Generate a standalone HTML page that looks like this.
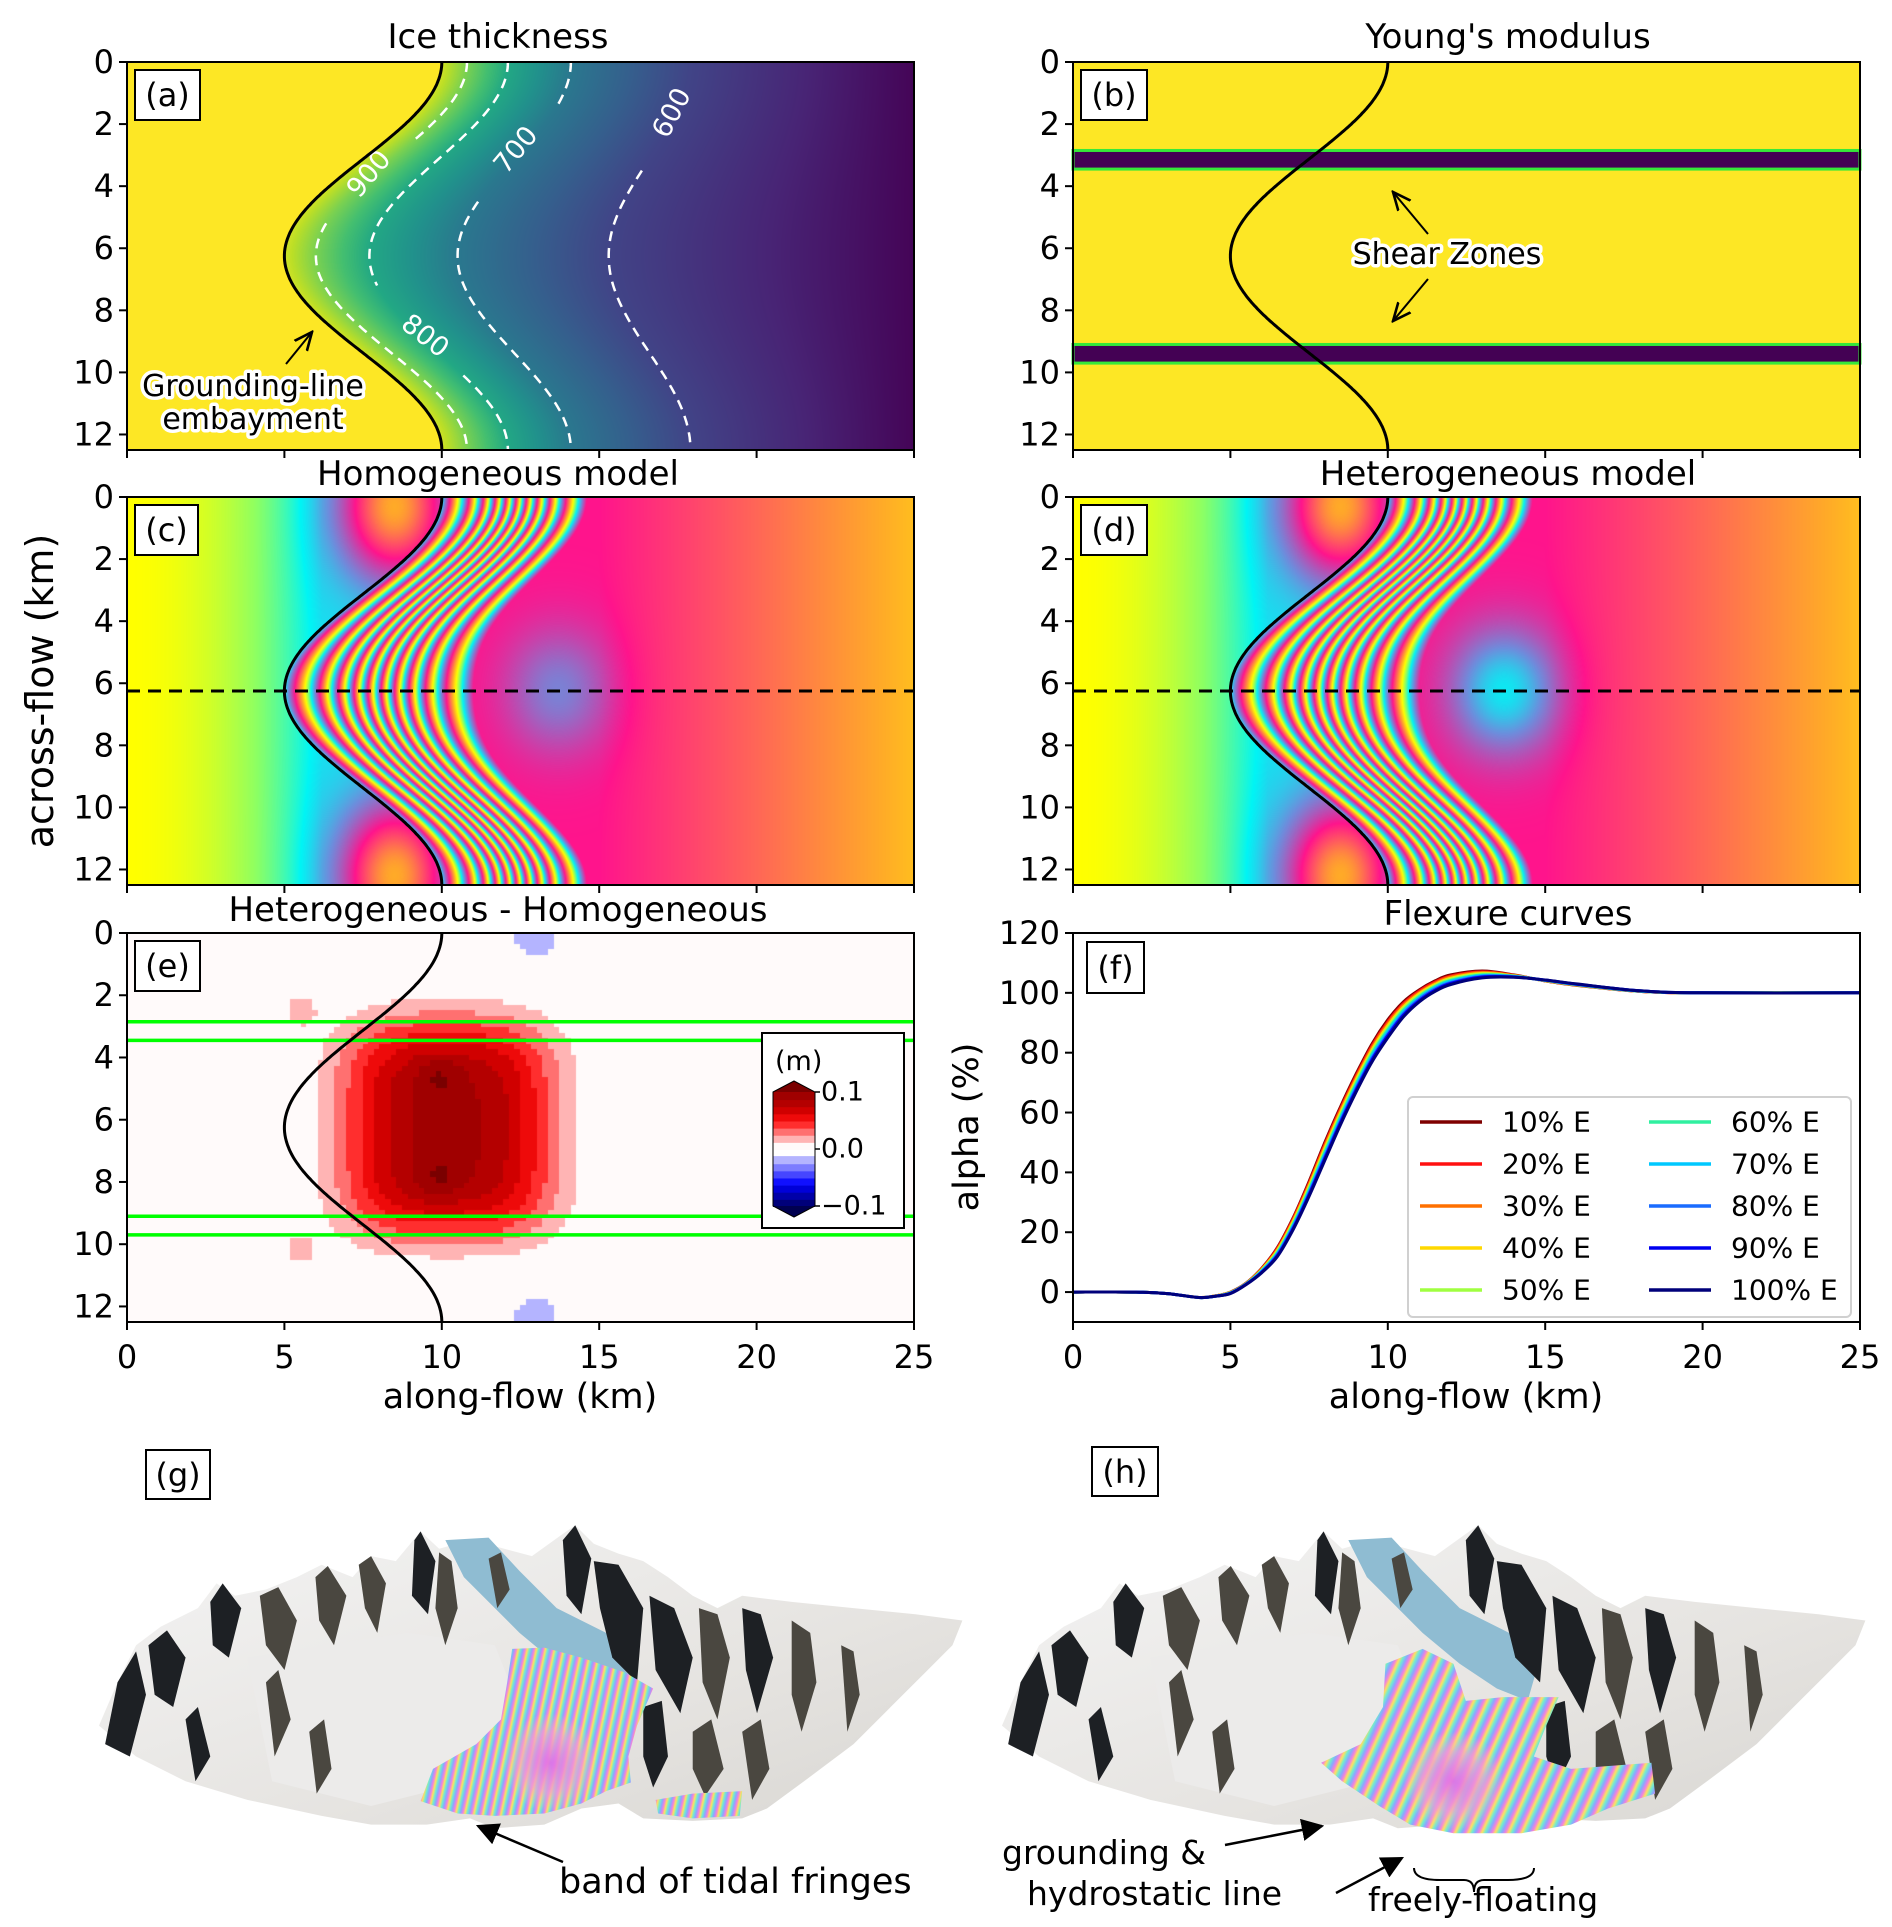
<!DOCTYPE html>
<html><head><meta charset="utf-8">
<style>
body{margin:0;background:#fff}
#fig{position:relative;width:1892px;height:1927px;overflow:hidden;background:#fff;font-family:"DejaVu Sans","Liberation Sans",sans-serif}
canvas{position:absolute}
#ov{position:absolute;left:0;top:0}
</style></head>
<body>
<div id="fig">
<canvas id="cva" width="787" height="388" style="left:127px;top:62px;width:787px;height:388px"></canvas>
<canvas id="cvc" width="787" height="388" style="left:127px;top:497px;width:787px;height:388px"></canvas>
<canvas id="cvd" width="787" height="388" style="left:1073px;top:497px;width:787px;height:388px"></canvas>
<canvas id="cve" width="787" height="389" style="left:127px;top:933px;width:787px;height:389px"></canvas>
<svg id="ov" width="1892" height="1927" xmlns="http://www.w3.org/2000/svg">
<defs>
<marker id="ah" viewBox="0 0 10 10" refX="9" refY="5" markerWidth="9" markerHeight="9" orient="auto-start-reverse"><path d="M0,0 L10,5 L0,10 z" fill="#000"/></marker>
<marker id="ao" viewBox="0 0 10 10" refX="9" refY="5" markerWidth="10" markerHeight="10" orient="auto"><path d="M0,1 L9,5 L0,9" fill="none" stroke="#000" stroke-width="1.3"/></marker>
<linearGradient id="frg" gradientUnits="userSpaceOnUse" x1="0" y1="0" x2="7" y2="1.5" spreadMethod="repeat">
<stop offset="0" stop-color="#f080e0"/><stop offset="0.25" stop-color="#ffe060"/><stop offset="0.5" stop-color="#70ecd0"/><stop offset="0.75" stop-color="#8aa8ff"/><stop offset="1" stop-color="#f080e0"/></linearGradient>
<linearGradient id="frh" gradientUnits="userSpaceOnUse" x1="0" y1="0" x2="9" y2="4" spreadMethod="repeat">
<stop offset="0" stop-color="#f080e0"/><stop offset="0.25" stop-color="#ffe060"/><stop offset="0.5" stop-color="#70ecd0"/><stop offset="0.75" stop-color="#8aa8ff"/><stop offset="1" stop-color="#f080e0"/></linearGradient>
<radialGradient id="mag" cx="0.5" cy="0.5" r="0.5"><stop offset="0" stop-color="#e070e8" stop-opacity="0.95"/><stop offset="0.6" stop-color="#f0a0d0" stop-opacity="0.7"/><stop offset="1" stop-color="#ffd090" stop-opacity="0"/></radialGradient>
<linearGradient id="snow" x1="0" y1="0" x2="1" y2="1"><stop offset="0" stop-color="#f4f4f4"/><stop offset="0.6" stop-color="#e6e4e1"/><stop offset="1" stop-color="#d8d6d2"/></linearGradient>
<g id="terr">
<path d="M80,1395 L95,1360 L110,1330 L130,1315 L160,1300 L175,1280 L190,1290 L215,1285 L240,1275 L260,1265 L285,1275 L300,1258 L320,1262 L340,1238 L355,1252 L380,1245 L400,1250 L430,1258 L455,1240 L465,1233 L480,1248 L500,1256 L520,1262 L540,1275 L560,1290 L580,1300 L600,1290 L640,1295 L690,1300 L740,1305 L778,1310 L770,1330 L750,1350 L720,1380 L690,1410 L650,1440 L620,1462 L600,1470 L560,1472 L520,1470 L500,1458 L470,1462 L440,1475 L400,1478 L380,1470 L345,1475 L300,1475 L260,1468 L200,1455 L150,1440 L110,1420 Z" fill="url(#snow)"/>
<path d="M200,1340 L330,1320 L400,1330 L420,1380 L380,1440 L300,1460 L220,1440 Z" fill="#ecebea"/>
<path d="M360,1245 L395,1243 L420,1270 L450,1300 L490,1320 L515,1340 L505,1375 L480,1365 L450,1345 L420,1320 L395,1295 L375,1275 Z" fill="#8fbcd2"/>
<g fill="#1d2024">
<path d="M85,1410 L95,1360 L110,1335 L118,1370 L105,1420 Z"/>
<path d="M120,1330 L135,1318 L150,1340 L140,1380 L125,1370 Z"/>
<path d="M170,1295 L180,1280 L195,1300 L185,1340 L172,1330 Z"/>
<path d="M335,1245 L340,1238 L352,1262 L346,1305 L333,1290 Z"/>
<path d="M455,1245 L465,1233 L478,1260 L470,1305 L458,1290 Z"/>
<path d="M480,1262 L500,1265 L520,1300 L515,1360 L495,1340 L485,1300 Z"/>
<path d="M525,1290 L545,1300 L560,1340 L550,1385 L530,1350 Z"/>
<path d="M600,1300 L615,1305 L625,1340 L612,1385 L603,1350 Z"/>
<path d="M520,1380 L535,1375 L540,1420 L528,1445 L520,1420 Z"/>
<path d="M150,1390 L160,1380 L170,1420 L158,1440 Z"/>
</g>
<g fill="#4a4740">
<path d="M210,1290 L225,1283 L240,1310 L230,1350 L215,1330 Z"/>
<path d="M255,1275 L265,1266 L280,1290 L270,1330 L258,1310 Z"/>
<path d="M290,1265 L300,1258 L312,1280 L305,1320 L295,1300 Z"/>
<path d="M355,1255 L365,1262 L370,1300 L360,1330 L352,1300 Z"/>
<path d="M565,1300 L580,1305 L590,1340 L580,1390 L568,1360 Z"/>
<path d="M640,1310 L655,1320 L660,1360 L648,1400 L640,1370 Z"/>
<path d="M560,1400 L575,1390 L585,1430 L570,1452 L560,1430 Z"/>
<path d="M600,1400 L615,1390 L622,1430 L608,1455 Z"/>
<path d="M680,1330 L690,1335 L695,1370 L685,1400 Z"/>
<path d="M215,1360 L225,1350 L235,1390 L222,1420 Z"/>
<path d="M250,1400 L262,1390 L268,1430 L256,1450 Z"/>
<path d="M395,1260 L405,1255 L412,1285 L402,1300 Z"/>
</g>
</g>
</defs>
<g transform="scale(1.237)">
<use href="#terr"/>
<path d="M414,1333 L440,1332 L470,1340 L505,1352 L528,1365 L515,1395 L508,1420 L510,1441 L490,1448 L470,1458 L440,1466 L400,1468 L370,1466 L340,1456 L350,1430 L385,1410 L405,1390 L410,1360 Z" fill="url(#frg)"/>
<ellipse cx="445" cy="1425" rx="38" ry="40" fill="url(#mag)"/>
<path d="M530,1455 L560,1450 L600,1448 L598,1468 L560,1470 L532,1466 Z" fill="url(#frg)"/>
</g>
<g transform="scale(1.237)">
<use href="#terr" transform="translate(730,0)"/>
<path d="M1120,1345 L1150,1333 L1175,1345 L1185,1375 L1215,1372 L1260,1372 L1250,1395 L1240,1420 L1270,1430 L1335,1425 L1338,1450 L1300,1462 L1270,1475 L1230,1482 L1175,1482 L1140,1475 L1115,1460 L1085,1440 L1068,1425 L1100,1410 L1118,1380 Z" fill="url(#frh)"/>
<ellipse cx="1175" cy="1440" rx="40" ry="40" fill="url(#mag)"/>
</g>
<rect x="146" y="1450" width="64" height="49" fill="#fff" stroke="#000" stroke-width="2"/>
<text x="178" y="1486" font-size="32" text-anchor="middle">(g)</text>
<rect x="1092" y="1447" width="66" height="49" fill="#fff" stroke="#000" stroke-width="2"/>
<text x="1125" y="1483" font-size="32" text-anchor="middle">(h)</text>
<line x1="563" y1="1862" x2="478" y2="1826" stroke="#000" stroke-width="2.5" marker-end="url(#ah)"/>
<text x="559" y="1893" font-size="35">band of tidal fringes</text>
<line x1="1225" y1="1845" x2="1322" y2="1826" stroke="#000" stroke-width="2.5" marker-end="url(#ah)"/>
<line x1="1336" y1="1893" x2="1402" y2="1858" stroke="#000" stroke-width="2.5" marker-end="url(#ah)"/>
<text x="1002" y="1864" font-size="33">grounding &amp;</text>
<text x="1027" y="1905" font-size="33">hydrostatic line</text>
<path d="M1414,1868 Q1414,1880 1440,1880 L1464,1880 Q1474,1880 1474,1892 Q1474,1880 1484,1880 L1508,1880 Q1534,1880 1534,1868" fill="none" stroke="#000" stroke-width="2"/>
<text x="1368" y="1911" font-size="33">freely-floating</text>
</svg>
</div>
<script>
// ---------- data ----------
const alongKm=[0,2,3,4,4.5,5,5.5,6,6.5,7,7.5,8,8.5,9,9.5,10,10.5,11,11.5,12,13,14,15,16,18,20,25];
const alpha10=[0,0,-0.5,-1.8,-1.3,0,3,8,15,25,37,50,62,73,83,91,97,101,104,106,107.3,106,104,102.5,100.5,100,100];
const alpha20=[0,0,-0.5,-1.8,-1.3,-0.1,2.9,7.8,14.7,24.6,36.4,49.3,61.3,72.3,82.3,90.3,96.4,100.6,103.6,105.6,107,105.9,104,102.6,100.5,100,100];
const alpha30=[0,0,-0.5,-1.8,-1.3,-0.1,2.9,7.7,14.3,24.1,35.9,48.7,60.7,71.7,81.7,89.7,95.9,100.1,103.2,105.3,106.8,105.8,104.1,102.6,100.5,100,100];
const alpha40=[0,0,-0.5,-1.8,-1.3,-0.2,2.8,7.5,14,23.7,35.3,48,60,71,81,89,95.3,99.7,102.8,104.9,106.5,105.7,104.1,102.7,100.6,100,100];
const alpha50=[0,0,-0.5,-1.8,-1.4,-0.2,2.8,7.3,13.7,23.2,34.8,47.3,59.3,70.3,80.3,88.3,94.8,99.2,102.4,104.6,106.3,105.6,104.1,102.7,100.6,100,100];
const alpha60=[0,0,-0.5,-1.8,-1.4,-0.3,2.7,7.2,13.3,22.8,34.2,46.7,58.7,69.7,79.7,87.7,94.2,98.8,102.1,104.2,106,105.6,104.2,102.8,100.6,100,100];
const alpha70=[0,0,-0.5,-1.8,-1.4,-0.3,2.7,7,13,22.3,33.7,46,58,69,79,87,93.7,98.3,101.7,103.9,105.8,105.5,104.2,102.8,100.6,100,100];
const alpha80=[0,0,-0.5,-1.8,-1.4,-0.4,2.6,6.8,12.7,21.9,33.1,45.3,57.3,68.3,78.3,86.3,93.1,97.9,101.3,103.5,105.5,105.4,104.2,102.9,100.7,100,100];
const alpha90=[0,0,-0.5,-1.8,-1.4,-0.4,2.6,6.7,12.3,21.4,32.6,44.7,56.7,67.7,77.7,85.7,92.6,97.4,100.9,103.2,105.3,105.3,104.3,102.9,100.7,100,100];
const alpha100=[0,0,-0.5,-1.8,-1.4,-0.5,2.5,6.5,12,21,32,44,56,67,77,85,92,97,100.5,102.8,105,105.2,104.3,103,100.7,100,100];
const seriesNames=['10% E','20% E','30% E','40% E','50% E','60% E','70% E','80% E','90% E','100% E'];
const seriesColors=['#7f0000','#ff1010','#ff7000','#ffd800','#a0ff40','#30f0a0','#00c8ff','#1a6cff','#0000f0','#00007a'];
const seriesData=[alpha10,alpha20,alpha30,alpha40,alpha50,alpha60,alpha70,alpha80,alpha90,alpha100];
const alphaTicks=[0,20,40,60,80,100,120];
const alongTicks=[0,5,10,15,20,25];
const acrossTicks=[0,2,4,6,8,10,12];
const contourLevels=[900,800,700,600];
const contourCenter=[8.4,9.9,12.3,16.6];
const contourAmp=[2.4,2.2,1.8,1.3];
const contourSegs=[[[0,2.5],[5.2,12.5]],[[0,7.25],[10.1,12.5]],[[0,1.55],[4.5,12.5]],[[3.5,12.5]]];
const shearEdges=[2.85,3.45,9.1,9.7];
const cbarLevels=[-0.1,-0.0875,-0.075,-0.0625,-0.05,-0.0375,-0.025,-0.0125,0.0125,0.025,0.0375,0.05,0.0625,0.075,0.0875,0.1];
const cbarColors=['#000050','#00007a','#0000a8','#0000d8','#1010ff','#4646ff','#7c7cff','#b4b4ff','#fffafa','#ffb4b4','#ff7070','#ff2e2e','#ee0a0a','#d00000','#b40000','#a00000','#7a0000'];

// ---------- geometry ----------
const LX0=127,LX1=914,RX0=1073,RX1=1860;
const ROWS=[[62,450],[497,885],[933,1322]];
const KM=25,ACR=12.5;
function sq(v){return v*v;}
function xg(y){return 7.5+2.5*Math.cos(2*Math.PI*y/12.5);}
const NS='http://www.w3.org/2000/svg';
const ov=document.getElementById('ov');
function mk(tag,attrs,parent){const e=document.createElementNS(NS,tag);for(const k in attrs)e.setAttribute(k,attrs[k]);(parent||ov).appendChild(e);return e;}
function tx(str,attrs,parent){const e=mk('text',attrs,parent);e.textContent=str;return e;}
function lerpStops(stops,t){
  for(let i=1;i<stops.length;i++){if(t<=stops[i][0]){const a=stops[i-1],b=stops[i];const f=(t-a[0])/(b[0]-a[0]);return [a[1]+f*(b[1]-a[1]),a[2]+f*(b[2]-a[2]),a[3]+f*(b[3]-a[3])];}}
  const l=stops[stops.length-1];return [l[1],l[2],l[3]];
}

// ---------- (a) ice thickness ----------
const VIR=[[0,68,1,84],[0.1,72,36,117],[0.2,65,68,135],[0.3,53,95,141],[0.4,42,120,142],[0.5,33,145,140],[0.6,34,168,132],[0.7,68,191,112],[0.8,122,209,81],[0.9,189,223,38],[1,253,231,37]];
function thick(x,y){
  const g=xg(y); if(x<g) return 1000;
  const c=Math.cos(2*Math.PI*y/12.5);
  const px=[g],pv=[965];
  for(let i=0;i<contourLevels.length;i++){px.push(contourCenter[i]+contourAmp[i]*c);pv.push(contourLevels[i]);}
  px.push(25);pv.push(505);
  for(let i=1;i<px.length;i++){if(x<=px[i]){const f=(x-px[i-1])/(px[i]-px[i-1]);return pv[i-1]+f*(pv[i]-pv[i-1]);}}
  return 505;
}
(function(){const cv=document.getElementById('cva');const ctx=cv.getContext('2d');const W=cv.width,H=cv.height;const im=ctx.createImageData(W,H);
for(let j=0;j<H;j++){const y=(j+0.5)/H*ACR;for(let i=0;i<W;i++){const x=(i+0.5)/W*KM;const t=Math.max(0,Math.min(1,(thick(x,y)-500)/500));const c=lerpStops(VIR,t);const k=(j*W+i)*4;im.data[k]=c[0];im.data[k+1]=c[1];im.data[k+2]=c[2];im.data[k+3]=255;}}
ctx.putImageData(im,0,0);})();

// ---------- (c),(d) fringes ----------
const FS=[[0,255,20,140],[0.12,255,90,95],[0.25,255,170,40],[0.38,255,255,0],[0.5,140,255,100],[0.62,0,245,245],[0.78,110,140,220],[1,255,20,140]];
const NFR=10;
function phase(x,y,O){
  const g=xg(y),d=x-g;
  if(d<0){const t=Math.min(1,x/6.2);let p=0.38+0.27*t*t;
    p+=0.6*(Math.exp(-sq((x-8.5)/1.7)-sq((y-0.3)/2.3))+Math.exp(-sq((x-8.5)/1.7)-sq((y-12.2)/2.3)));return p;}
  const L=4.6+1.4*Math.exp(-sq((y-6.25)/2.6));
  const B=x<15?1.0:1.0+0.28*(x-15)/10;
  const blob=O*Math.exp(-sq((x-13.7)/1.7)-sq((y-6.25)/2.0));
  if(d<L){const t=d/L;const s=t-0.06*Math.sin(2*Math.PI*t);return 0.64+(NFR+B-0.64)*s+blob*s;}
  return NFR+B+blob;
}
function drawFringe(id,O){const cv=document.getElementById(id);const ctx=cv.getContext('2d');const W=cv.width,H=cv.height;const im=ctx.createImageData(W,H);
for(let j=0;j<H;j++){const y=(j+0.5)/H*ACR;for(let i=0;i<W;i++){const x=(i+0.5)/W*KM;let p=phase(x,y,O);p=p-Math.floor(p);const c=lerpStops(FS,p);const k=(j*W+i)*4;im.data[k]=c[0];im.data[k+1]=c[1];im.data[k+2]=c[2];im.data[k+3]=255;}}
ctx.putImageData(im,0,0);}
drawFringe('cvc',-0.2);
drawFringe('cvd',-0.36);

// ---------- (e) difference ----------
function diffField(x,y){
  let r=0.09*Math.exp(-Math.pow(Math.abs((x-10.2)/3.32),3))*Math.exp(-Math.pow((y-6.3)/3.5,4));
  r+=0.016*(Math.exp(-sq((x-9.95)/0.7)-sq((y-4.6)/0.65))+Math.exp(-sq((x-9.95)/0.7)-sq((y-7.9)/0.65)));
  r+=0.016*(Math.exp(-(sq(x-5.5)+sq(y-2.5))/0.45)+Math.exp(-(sq(x-5.5)+sq(y-10.2))/0.45));
  r-=0.02*(Math.exp(-(sq(x-13)+sq(y-0.1))/0.9)+Math.exp(-(sq(x-13)+sq(y-12.4))/0.9));
  return r;
}
function levelColor(v){let i=0;while(i<cbarLevels.length&&v>=cbarLevels[i])i++;return cbarColors[i];}
(function(){const cv=document.getElementById('cve');const ctx=cv.getContext('2d');const NX=140,NY=70;const cw=cv.width/NX,ch=cv.height/NY;
for(let j=0;j<NY;j++){for(let i=0;i<NX;i++){const x=(i+0.5)/NX*KM,y=(j+0.5)/NY*ACR;ctx.fillStyle=levelColor(diffField(x,y));ctx.fillRect(Math.floor(i*cw),Math.floor(j*ch),Math.ceil(cw)+1,Math.ceil(ch)+1);}}})();

// ---------- map panels (axes) ----------
const maps=[
 {id:'a',x0:LX0,x1:LX1,row:0,title:'Ice thickness',tx:498,bw:65},
 {id:'b',x0:RX0,x1:RX1,row:0,title:"Young's modulus",tx:1508,bw:66},
 {id:'c',x0:LX0,x1:LX1,row:1,title:'Homogeneous model',tx:498,bw:63},
 {id:'d',x0:RX0,x1:RX1,row:1,title:'Heterogeneous model',tx:1508,bw:66},
 {id:'e',x0:LX0,x1:LX1,row:2,title:'Heterogeneous - Homogeneous',tx:498,bw:65}
];
const titleBase=[48,485,921];
maps.forEach(p=>{
  const y0=ROWS[p.row][0],y1=ROWS[p.row][1];
  const sx=v=>p.x0+v/KM*(p.x1-p.x0), sy=v=>y0+v/ACR*(y1-y0);
  const g=mk('g',{});
  
  
  if(p.id==='b'){
    const bg=mk('rect',{x:p.x0,y:y0,width:p.x1-p.x0,height:y1-y0,fill:'#fde725'},g);
    
    
    for(let k=0;k<shearEdges.length;k+=2){
      const band=mk('rect',{x:p.x0,y:sy(shearEdges[k]),width:p.x1-p.x0,height:sy(shearEdges[k+1])-sy(shearEdges[k]),fill:'#440154',stroke:'#35e83a','stroke-width':3},g);
      
      
    }
  }
  if(p.id==='a'){
    for(let i=0;i<contourLevels.length;i++){
      contourSegs[i].forEach(seg=>{
        let d='';for(let y=seg[0];y<=seg[1]+1e-6;y+=0.1){const x=contourCenter[i]+contourAmp[i]*Math.cos(2*Math.PI*y/12.5);d+=(d?'L':'M')+sx(x).toFixed(1)+','+sy(y).toFixed(1);}
        const cl=mk('path',{d:d,fill:'none',stroke:'#fff','stroke-width':2.5,'stroke-dasharray':'10,7'},g);
        
        
      });
    }
    const labs=[['900',369,174,-50],['800',425,336,38],['700',516,150,-50],['600',672,113,-62]];
    labs.forEach(l=>{const t=tx(l[0],{x:l[1],y:l[2],'font-size':27,fill:'#fff','text-anchor':'middle','dominant-baseline':'central',transform:'rotate('+l[3]+' '+l[1]+' '+l[2]+')'},g);
      
      });
  }
  if(p.id==='e'){
    shearEdges.forEach(v=>{const l=mk('line',{x1:p.x0,x2:p.x1,y1:sy(v),y2:sy(v),stroke:'#00ff00','stroke-width':3.5},g);
      
      });
  }
  let d='';for(let y=0;y<=ACR+1e-6;y+=0.05){d+=(d?'L':'M')+sx(xg(y)).toFixed(1)+','+sy(y).toFixed(1);}
  const gl=mk('path',{d:d,fill:'none',stroke:'#000','stroke-width':3},g);
  
  
  if(p.id==='c'||p.id==='d'){
    const dl=mk('line',{x1:p.x0,x2:p.x1,y1:sy(6.25),y2:sy(6.25),stroke:'#000','stroke-width':3,'stroke-dasharray':'13,8'},g);
    
    
  }
  const fr=mk('rect',{x:p.x0,y:y0,width:p.x1-p.x0,height:y1-y0,fill:'none',stroke:'#000','stroke-width':2},g);
  
  
  alongTicks.forEach(v=>{const t=mk('line',{x1:sx(v),x2:sx(v),y1:y1,y2:y1+8,stroke:'#000','stroke-width':2},g);
    
    
    if(p.id==='e'){const l=tx(String(v),{x:sx(v),y:1368,'font-size':32,'text-anchor':'middle'},g);
      
      }
  });
  acrossTicks.forEach(v=>{const t=mk('line',{x1:p.x0-8,x2:p.x0,y1:sy(v),y2:sy(v),stroke:'#000','stroke-width':2},g);
    
    
    const l=tx(String(v),{x:p.x0-13,y:sy(v),'font-size':32,'text-anchor':'end','dominant-baseline':'central'},g);
    
    
  });
  const tt=tx(p.title,{x:p.tx,y:titleBase[p.row],'font-size':34,'text-anchor':'middle'},g);
  
  
  const br=mk('rect',{x:p.x0+8,y:y0+8,width:p.bw,height:50,fill:'#fff',stroke:'#000','stroke-width':2},g);
  
  
  const bl=tx('('+p.id+')',{x:p.x0+8+p.bw/2,y:y0+44,'font-size':32,'text-anchor':'middle'},g);
  
  
});

// annotations
function halo(str,x,y,size,name){const t=tx(str,{x:x,y:y,'font-size':size,'text-anchor':'middle',fill:'#000',stroke:'#fff','stroke-width':7,'paint-order':'stroke','stroke-linejoin':'round'});
  
  return t;}
halo('Grounding-line',253,396,30,'grounding-line-annotation');
halo('embayment',253,429,30,'embayment-annotation');
const a1=mk('line',{x1:286,y1:364,x2:312,y2:332,stroke:'#000','stroke-width':2,'marker-end':'url(#ao)'});


halo('Shear Zones',1447,264,30,'shear-zones-annotation');
const a2=mk('line',{x1:1428,y1:234,x2:1393,y2:192,stroke:'#000','stroke-width':2,'marker-end':'url(#ao)'});


const a3=mk('line',{x1:1428,y1:279,x2:1393,y2:321,stroke:'#000','stroke-width':2,'marker-end':'url(#ao)'});


const yl=tx('across-flow (km)',{x:40,y:691,'font-size':38,'text-anchor':'middle','dominant-baseline':'central',transform:'rotate(-90 40 691)'});


const xl1=tx('along-flow (km)',{x:520,y:1408,'font-size':35,'text-anchor':'middle'});



// colorbar
(function(){const g=mk('g',{});


const box=mk('rect',{x:762,y:1033,width:142,height:195,fill:'#fff',stroke:'#000','stroke-width':2},g);


const bx=773,bw=42,top=1092,bot=1206;const n=cbarColors.length-2;const h=(bot-top)/n;
const vy=v=>bot-(v-(-0.1))/0.2*(bot-top);
for(let i=1;i<cbarColors.length-1;i++){const r=mk('rect',{x:bx,y:vy(cbarLevels[i]),width:bw,height:h+0.5,fill:cbarColors[i]},g);
  
  }
const t1=mk('path',{d:`M${bx},${top} L${bx+bw/2},${top-11} L${bx+bw},${top} Z`,fill:cbarColors[cbarColors.length-1]},g);


const t2=mk('path',{d:`M${bx},${bot} L${bx+bw/2},${bot+11} L${bx+bw},${bot} Z`,fill:cbarColors[0]},g);


const ol=mk('path',{d:`M${bx},${top} L${bx+bw/2},${top-11} L${bx+bw},${top} L${bx+bw},${bot} L${bx+bw/2},${bot+11} L${bx},${bot} Z`,fill:'none',stroke:'#000','stroke-width':1},g);


[[0.1,'0.1'],[0,'0.0'],[-0.1,'\u22120.1']].forEach(tk=>{
  const l=mk('line',{x1:bx+bw,x2:bx+bw+5,y1:vy(tk[0]),y2:vy(tk[0]),stroke:'#000','stroke-width':1.5},g);
  
  
  const t=tx(tk[1],{x:bx+bw+6,y:vy(tk[0]),'font-size':27,'dominant-baseline':'central'},g);
  
  });
const u=tx('(m)',{x:775,y:1070,'font-size':27},g);


})();

// ---------- (f) flexure curves ----------
(function(){
const y0=ROWS[2][0],y1=ROWS[2][1];
const fx=v=>RX0+v/25*(RX1-RX0), fy=v=>y0+(120-v)/130*(y1-y0);
const g=mk('g',{});


const cp=mk('clipPath',{id:'fclip'},g);mk('rect',{x:RX0,y:y0,width:RX1-RX0,height:y1-y0},cp);
seriesData.forEach((vals,si)=>{
  const P=alongKm.map((x,i)=>[fx(x),fy(vals[i])]);
  let d='M'+P[0][0].toFixed(1)+','+P[0][1].toFixed(1);
  for(let i=0;i<P.length-1;i++){const p0=P[Math.max(0,i-1)],p1=P[i],p2=P[i+1],p3=P[Math.min(P.length-1,i+2)];
    const c1=[p1[0]+(p2[0]-p0[0])/6,p1[1]+(p2[1]-p0[1])/6],c2=[p2[0]-(p3[0]-p1[0])/6,p2[1]-(p3[1]-p1[1])/6];
    d+=`C${c1[0].toFixed(1)},${c1[1].toFixed(1)} ${c2[0].toFixed(1)},${c2[1].toFixed(1)} ${p2[0].toFixed(1)},${p2[1].toFixed(1)}`;}
  const pth=mk('path',{d:d,fill:'none',stroke:seriesColors[si],'stroke-width':3,'clip-path':'url(#fclip)'},g);
  
  
});
const fr=mk('rect',{x:RX0,y:y0,width:RX1-RX0,height:y1-y0,fill:'none',stroke:'#000','stroke-width':2},g);


alongTicks.forEach(v=>{const t=mk('line',{x1:fx(v),x2:fx(v),y1:y1,y2:y1+8,stroke:'#000','stroke-width':2},g);
  
  
  const l=tx(String(v),{x:fx(v),y:1368,'font-size':32,'text-anchor':'middle'},g);
  
  });
alphaTicks.forEach(v=>{const t=mk('line',{x1:RX0-8,x2:RX0,y1:fy(v),y2:fy(v),stroke:'#000','stroke-width':2},g);
  
  
  const l=tx(String(v),{x:RX0-13,y:fy(v),'font-size':32,'text-anchor':'end','dominant-baseline':'central'},g);
  
  });
const tt=tx('Flexure curves',{x:1508,y:925,'font-size':34,'text-anchor':'middle'},g);


const xl=tx('along-flow (km)',{x:1466,y:1408,'font-size':35,'text-anchor':'middle'},g);


const yl=tx('alpha (%)',{x:967,y:1127,'font-size':35,'text-anchor':'middle','dominant-baseline':'central',transform:'rotate(-90 967 1127)'},g);


const br=mk('rect',{x:RX0+14,y:y0+9,width:57,height:51,fill:'#fff',stroke:'#000','stroke-width':2},g);


const bl=tx('(f)',{x:RX0+42.5,y:y0+46,'font-size':32,'text-anchor':'middle'},g);


const lg=mk('rect',{x:1408,y:1097,width:443,height:220,fill:'#fff','fill-opacity':0.85,stroke:'#d0d0d0','stroke-width':2,rx:5},g);


seriesNames.forEach((nm,i)=>{const col=Math.floor(i/5),row=i%5;const lx=col?1649:1420,ly=1122+row*42;
  const ln=mk('line',{x1:lx,x2:lx+62,y1:ly,y2:ly,stroke:seriesColors[i],'stroke-width':3.5},g);
  
  
  const t=tx(nm,{x:lx+82,y:ly,'font-size':28,'dominant-baseline':'central'},g);
  
  });
})();
</script>
</body></html>
